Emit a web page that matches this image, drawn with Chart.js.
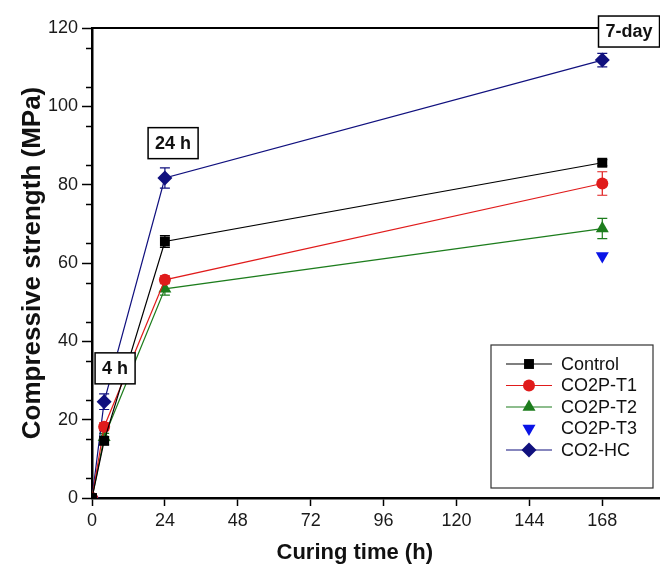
<!DOCTYPE html>
<html>
<head>
<meta charset="utf-8">
<script src="https://cdn.jsdelivr.net/npm/chart.js@4.4.1/dist/chart.umd.min.js"></script>
<style>
  html, body { margin: 0; padding: 0; background: #fff; }
  #wrap { width: 660px; height: 566px; }
</style>
</head>
<body>
<div id="wrap"><canvas id="grafico" width="660" height="566"></canvas></div>
<script>
// idade de cura (h) e resistência à compressão (MPa)
const horas = [0, 4, 24, 168];
const controle = [0, 14.6, 65.5, 85.6];
const controleErro = [0, 1.0, 1.5, 0.8];
const t1 = [0, 18.2, 55.7, 80.3];
const t1Erro = [0, 1.0, 1.0, 3.0];
const t2 = [0, 15.5, 53.4, 68.8];
const t2Erro = [0, 1.0, 1.6, 2.6];
const t3Horas = [168];
const t3 = [61.8];
const hc = [0, 24.6, 81.7, 111.8];
const hcErro = [0, 2.0, 2.6, 1.7];

const xTicks = [0, 24, 48, 72, 96, 120, 144, 168];
const yTicks = [0, 20, 40, 60, 80, 100, 120];

// caixas de texto marcando cada idade
const marcas = [
  { texto: '4 h', x: 7.6, y: 33.1 },
  { texto: '24 h', x: 26.7, y: 90.6 },
  { texto: '7-day', x: 176.8, y: 119.1 }
];

const fonte = '"Liberation Sans", Arial, sans-serif';

function pontos(xs, ys) {
  return xs.map((x, i) => ({ x: x, y: ys[i] }));
}

const barrasDeErro = {
  id: 'barrasDeErro',
  beforeDatasetsDraw(chart) {
    const ctx = chart.ctx;
    const xs = chart.scales.x, ys = chart.scales.y;
    chart.data.datasets.forEach(ds => {
      if (!ds.erro) return;
      ctx.save();
      ctx.strokeStyle = ds.borderColor;
      ctx.lineWidth = 1.2;
      ds.data.forEach((p, i) => {
        const e = ds.erro[i];
        if (!e) return;
        const px = xs.getPixelForValue(p.x);
        const y1 = ys.getPixelForValue(p.y - e);
        const y2 = ys.getPixelForValue(p.y + e);
        ctx.beginPath();
        ctx.moveTo(px, y1); ctx.lineTo(px, y2);
        ctx.moveTo(px - 5, y1); ctx.lineTo(px + 5, y1);
        ctx.moveTo(px - 5, y2); ctx.lineTo(px + 5, y2);
        ctx.stroke();
      });
      ctx.restore();
    });
  }
};

const moldura = {
  id: 'moldura',
  afterDraw(chart) {
    const ctx = chart.ctx;
    const a = chart.chartArea;
    const ys = chart.scales.y;
    const xs = chart.scales.x;
    ctx.save();
    ctx.strokeStyle = '#000';
    // linha superior
    ctx.lineWidth = 2;
    ctx.beginPath();
    ctx.moveTo(a.left, a.top);
    ctx.lineTo(a.right, a.top);
    ctx.stroke();
    // ticks menores do eixo y
    ctx.lineWidth = 1.5;
    for (let v = 5; v < 120; v += 10) {
      const py = Math.round(ys.getPixelForValue(v)) + 0.5;
      ctx.beginPath();
      ctx.moveTo(a.left - 6, py);
      ctx.lineTo(a.left, py);
      ctx.stroke();
    }
    // caixas de texto
    ctx.font = 'bold 18px ' + fonte;
    ctx.textAlign = 'center';
    ctx.textBaseline = 'middle';
    marcas.forEach(m => {
      const cx = xs.getPixelForValue(m.x);
      const cy = ys.getPixelForValue(m.y);
      const w = ctx.measureText(m.texto).width + 14;
      const h = 31;
      ctx.fillStyle = '#fff';
      ctx.fillRect(cx - w / 2, cy - h / 2, w, h);
      ctx.lineWidth = 1.5;
      ctx.strokeRect(cx - w / 2, cy - h / 2, w, h);
      ctx.fillStyle = '#111';
      ctx.fillText(m.texto, cx, cy + 1);
    });
    // título do eixo x
    ctx.font = 'bold 22px ' + fonte;
    ctx.fillStyle = '#111';
    ctx.textBaseline = 'alphabetic';
    ctx.fillText('Curing time (h)', xs.getPixelForValue(86.5), 559);
    // legenda
    const lx = a.right - 169, ly = a.bottom - 153, lw = 162, lh = 143;
    ctx.fillStyle = '#fff';
    ctx.fillRect(lx, ly, lw, lh);
    ctx.strokeStyle = '#333';
    ctx.lineWidth = 1.2;
    ctx.strokeRect(lx, ly, lw, lh);
    ctx.font = '18px ' + fonte;
    ctx.textAlign = 'left';
    ctx.textBaseline = 'middle';
    chart.data.datasets.forEach((ds, i) => {
      const ry = ly + 19 + i * 21.5;
      if (ds.showLine !== false) {
        ctx.strokeStyle = ds.borderColor;
        ctx.lineWidth = 1.2;
        ctx.beginPath();
        ctx.moveTo(lx + 15, ry);
        ctx.lineTo(lx + 61, ry);
        ctx.stroke();
      }
      ctx.fillStyle = ds.pointBackgroundColor;
      Chart.helpers.drawPoint(ctx, {
        pointStyle: ds.pointStyle,
        rotation: ds.pointRotation || 0,
        radius: ds.pointRadius,
        borderWidth: 0
      }, lx + 38, ry);
      ctx.fillStyle = '#111';
      ctx.fillText(ds.label, lx + 70, ry + 1);
    });
    ctx.restore();
  }
};

function serie(label, xs, ys, erro, cor, estilo, raio, extra) {
  return Object.assign({
    label: label,
    data: pontos(xs, ys),
    erro: erro,
    borderColor: cor,
    backgroundColor: cor,
    pointBackgroundColor: cor,
    pointBorderColor: cor,
    pointBorderWidth: 0,
    borderWidth: 1.2,
    pointStyle: estilo,
    pointRadius: raio,
    pointHoverRadius: raio,
    tension: 0,
    clip: 0
  }, extra || {});
}

new Chart(document.getElementById('grafico'), {
  type: 'line',
  data: {
    datasets: [
      serie('Control', horas, controle, controleErro, '#000000', 'rect', 7),
      serie('CO2P-T1', horas, t1, t1Erro, '#e01b1b', 'circle', 6),
      serie('CO2P-T2', horas, t2, t2Erro, '#1d7d1d', 'triangle', 7.5),
      serie('CO2P-T3', t3Horas, t3, null, '#0a14e6', 'triangle', 7.5, { showLine: false, pointRotation: 180, rotation: 180 }),
      serie('CO2-HC', horas, hc, hcErro, '#10107e', 'rectRot', 7.5)
    ]
  },
  options: {
    responsive: false,
    animation: false,
    layout: { autoPadding: false, padding: { top: 28, right: 0, bottom: 0, left: 0 } },
    plugins: {
      legend: { display: false },
      tooltip: { enabled: false }
    },
    scales: {
      x: {
        type: 'linear',
        min: 0,
        max: 187,
        afterBuildTicks: s => { s.ticks = xTicks.map(v => ({ value: v })); },
        afterFit: s => { s.height = 68; s.paddingRight = 0; s.paddingLeft = 0; },
        grid: { drawOnChartArea: false, drawTicks: true, tickLength: 8, tickColor: '#000', tickWidth: 1.5 },
        border: { display: true, color: '#000', width: 2.5 },
        ticks: { color: '#1a1a1a', font: { family: fonte, size: 18 }, padding: 4, maxRotation: 0 }
      },
      y: {
        min: 0,
        max: 120,
        afterBuildTicks: s => { s.ticks = yTicks.map(v => ({ value: v })); },
        afterFit: s => { s.width = 92; s.paddingTop = 0; s.paddingBottom = 0; },
        grid: { drawOnChartArea: false, drawTicks: true, tickLength: 10, tickColor: '#000', tickWidth: 1.5 },
        border: { display: true, color: '#000', width: 2.5 },
        ticks: { color: '#1a1a1a', font: { family: fonte, size: 18 }, padding: 4 },
        title: {
          display: true,
          text: 'Compressive strength (MPa)',
          color: '#111',
          font: { family: fonte, size: 26, weight: 'bold' },
          padding: { top: 17, bottom: 0 }
        }
      }
    }
  },
  plugins: [barrasDeErro, moldura]
});
</script>
</body>
</html>
